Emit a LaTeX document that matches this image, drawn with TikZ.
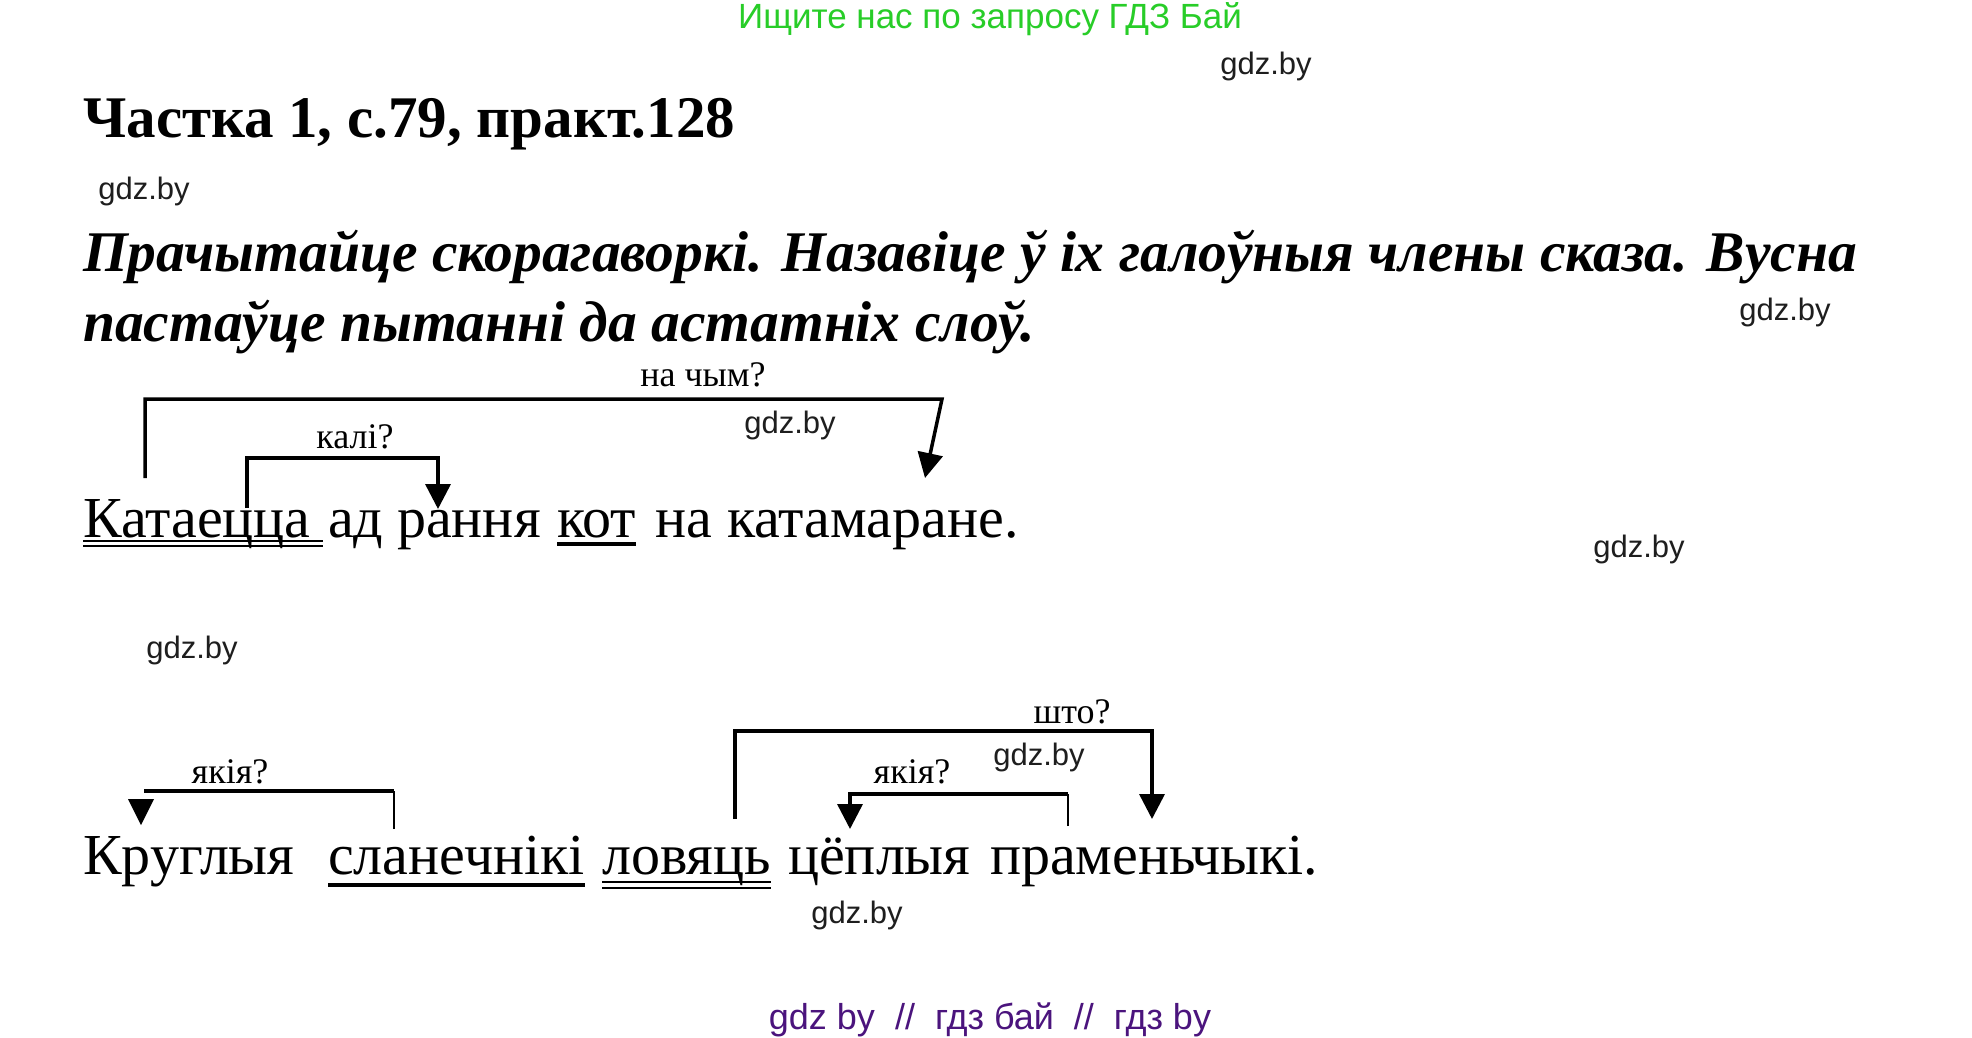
\documentclass[tikz,border=0pt]{standalone}
\usepackage{fontspec}
\setmainfont{Liberation Serif}
\newfontfamily\wmfont{Liberation Sans}
\usetikzlibrary{arrows.meta}
\definecolor{wmgreen}{RGB}{40,205,40}
\definecolor{wmpurple}{RGB}{75,20,125}
\definecolor{wmgray}{RGB}{30,30,30}
\tikzset{
  txt/.style={inner sep=0pt, anchor=base west},
  word/.style={txt, font=\fontsize{58}{60}\selectfont},
  qlabel/.style={inner sep=0pt, anchor=base, font=\fontsize{36}{38}\selectfont},
  wm/.style={inner sep=0pt, font=\wmfont\fontsize{31}{33}\selectfont, text=wmgray},
  link/.style={line width=3.5pt, line join=miter},
  thinlink/.style={line width=2pt},
  arr/.style={-{Triangle[width=25pt,length=25pt]}},
  uline/.style={line width=2pt},
  ulthick/.style={line width=3.5pt}
}
\begin{document}
\begin{tikzpicture}[x=1pt,y=-1pt]
\useasboundingbox (0,0) rectangle (1972,1037);
\fill[white] (0,0) rectangle (1972,1037);

% top / bottom banners
\node[inner sep=0pt, font=\wmfont\fontsize{35}{37}\selectfont, text=wmgreen] (top) at (990,19) {Ищите нас по запросу ГДЗ Бай};
\node[inner sep=0pt, font=\wmfont\fontsize{36}{38}\selectfont, text=wmpurple] (bottom) at (990,1020) {gdz by\ \ //\ \ гдз бай\ \ //\ \ гдз by};

% watermarks
\node[wm] (g1) at (1266,66) {gdz.by};
\node[wm] (g2) at (144,191) {gdz.by};
\node[wm] (g3) at (1785,312) {gdz.by};
\node[wm] (g4) at (790,425) {gdz.by};
\node[wm] (g5) at (1639,549) {gdz.by};
\node[wm] (g6) at (192,650) {gdz.by};
\node[wm] (g7) at (1039,757) {gdz.by};
\node[wm] (g8) at (857,915) {gdz.by};

% title and task
\node[txt, font=\bfseries\fontsize{59}{61}\selectfont] (title) at (83,137) {Частка 1, с.79, практ.128};
\node[txt, font=\bfseries\itshape\fontsize{57.5}{60}\selectfont] (task1) at (83,271) {Прачытайце скорагаворкі. Назавіце ў іх галоўныя члены сказа. Вусна};
\node[txt, font=\bfseries\itshape\fontsize{57.5}{60}\selectfont] (task2) at (83,341) {пастаўце пытанні да астатніх слоў.};

% sentence 1
\node[word] (w1) at (83,537) {Катаецца};
\node[word] (w2) at (328,537) {ад};
\node[word] (w3) at (397,537) {рання};
\node[word] (w4) at (557,537) {кот};
\node[word] (w5) at (655,537) {на};
\node[word] (w6) at (727,537) {катамаране.};

\draw[uline] ([yshift=-4pt]w1.base west) -- ([yshift=-4pt,xshift=12pt]w1.base east);
\draw[uline] ([yshift=-9pt]w1.base west) -- ([yshift=-9pt,xshift=12pt]w1.base east);
\draw[ulthick] ([yshift=-7pt]w4.base west) -- ([yshift=-7pt]w4.base east);

\node[qlabel] (q1) at (703,386) {на чым?};
\node[qlabel] (q2) at (355,448) {калі?};

\coordinate (a1) at (145,478);
\coordinate (a2) at (145,399);
\coordinate (a3) at (942,399);
\coordinate (a4) at (925,478);
\draw[link, arr] (a1) -- (a2) -- (a3) -- (a4);

\coordinate (b1) at (247,508);
\coordinate (b2) at (247,458);
\coordinate (b3) at (438,458);
\coordinate (b4) at (438,509);
\draw[link, arr] (b1) -- (b2) -- (b3) -- (b4);

% sentence 2
\node[word] (v1) at (83,874) {Круглыя};
\node[word] (v2) at (328,874) {сланечнікі};
\node[word] (v3) at (602,874) {ловяць};
\node[word] (v4) at (788,874) {цёплыя};
\node[word] (v5) at (990,874) {праменьчыкі.};

\draw[ulthick] ([yshift=-11pt]v2.base west) -- ([yshift=-11pt]v2.base east);
\draw[uline] ([yshift=-8pt]v3.base west) -- ([yshift=-8pt]v3.base east);
\draw[uline] ([yshift=-14pt]v3.base west) -- ([yshift=-14pt]v3.base east);

\node[qlabel] (q3) at (1072,723) {што?};
\node[qlabel] (q4) at (230,783) {якія?};
\node[qlabel] (q5) at (912,783) {якія?};

\coordinate (c1) at (735,819);
\coordinate (c2) at (735,731);
\coordinate (c3) at (1152,731);
\coordinate (c4) at (1152,819);
\draw[link, arr] (c1) -- (c2) -- (c3) -- (c4);

% left якія? bracket
\coordinate (d1) at (394,829);
\coordinate (d2) at (394,791);
\coordinate (d3) at (144,791);
\draw[thinlink] (d1) -- (d2);
\draw[link] (d2) -- (d3);
\fill (128,799) -- (154,799) -- (141,825) -- cycle;

% right якія? bracket
\coordinate (e1) at (1068,826);
\coordinate (e2) at (1068,794);
\coordinate (e3) at (850,794);
\coordinate (e4) at (850,829);
\draw[thinlink] (e1) -- (e2);
\draw[link, arr] (e2) -- (e3) -- (e4);
\end{tikzpicture}
\end{document}
